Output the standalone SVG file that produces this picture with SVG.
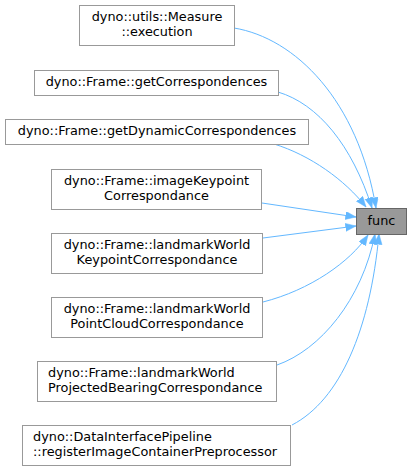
<svg xmlns="http://www.w3.org/2000/svg" width="412" height="471" viewBox="0 0 412 471">
<style>
.n rect{fill:#ffffff;stroke:#999999;stroke-width:1}
.f rect{fill:#999999;stroke:#666666;stroke-width:1}
text{font-family:"DejaVu Sans",sans-serif;font-size:12.85px;fill:#000000}
.c{text-anchor:middle}
.e path{fill:none;stroke:#63b8ff;stroke-width:1;marker-end:url(#ah)}
</style>
<defs>
<marker id="ah" markerUnits="userSpaceOnUse" markerWidth="11" markerHeight="9" refX="10.5" refY="4" orient="auto">
<path d="M0,0 L10.5,4 L0,8 z" fill="#63b8ff" stroke="#63b8ff" stroke-width="0.5"/>
</marker>
</defs>
<rect width="412" height="471" fill="#ffffff"/>
<g class="e" id="edges">
<path d="M234,28 C295,38 358,100 376,208"/>
<path d="M278,92 C318,104 352,145 372,208"/>
<path d="M274,144 C310,155 345,180 366,207"/>
<path d="M262,203 L356,217"/>
<path d="M263,238 L356,226"/>
<path d="M263,302 C310,290 350,262 368,235"/>
<path d="M277,365 C320,350 362,300 375,234"/>
<path d="M292,425 C340,400 370,330 379,234"/>
</g>
<g class="n" id="n1"><rect x="79.5" y="5.5" width="155" height="40"/><text class="c" x="157" y="21">dyno::utils::Measure</text><text class="c" x="157" y="36">::execution</text></g>
<g class="n" id="n2"><rect x="34.5" y="70.5" width="244" height="25"/><text class="c" x="156.5" y="86">dyno::Frame::getCorrespondences</text></g>
<g class="n" id="n3"><rect x="5.5" y="119.5" width="303" height="25"/><text class="c" x="157" y="135">dyno::Frame::getDynamicCorrespondences</text></g>
<g class="n" id="n4"><rect x="51.5" y="169.5" width="210" height="40"/><text class="c" x="156.5" y="185">dyno::Frame::imageKeypoint</text><text class="c" x="156.5" y="200">Correspondance</text></g>
<g class="n" id="n5"><rect x="51.5" y="233.5" width="211" height="40"/><text class="c" x="157" y="249">dyno::Frame::landmarkWorld</text><text class="c" x="157" y="264">KeypointCorrespondance</text></g>
<g class="n" id="n6"><rect x="51.5" y="297.5" width="211" height="40"/><text class="c" x="157" y="313">dyno::Frame::landmarkWorld</text><text class="c" x="157" y="328">PointCloudCorrespondance</text></g>
<g class="n" id="n7"><rect x="37.5" y="361.5" width="239" height="40"/><text x="48" y="377">dyno::Frame::landmarkWorld</text><text x="48" y="392">ProjectedBearingCorrespondance</text></g>
<g class="n" id="n8"><rect x="22.5" y="425.5" width="268" height="40"/><text x="33" y="441">dyno::DataInterfacePipeline</text><text x="33" y="456">::registerImageContainerPreprocessor</text></g>
<g class="f" id="func"><rect x="356.5" y="208.5" width="50" height="26"/><text class="c" x="381.5" y="225">func</text></g>
</svg>
